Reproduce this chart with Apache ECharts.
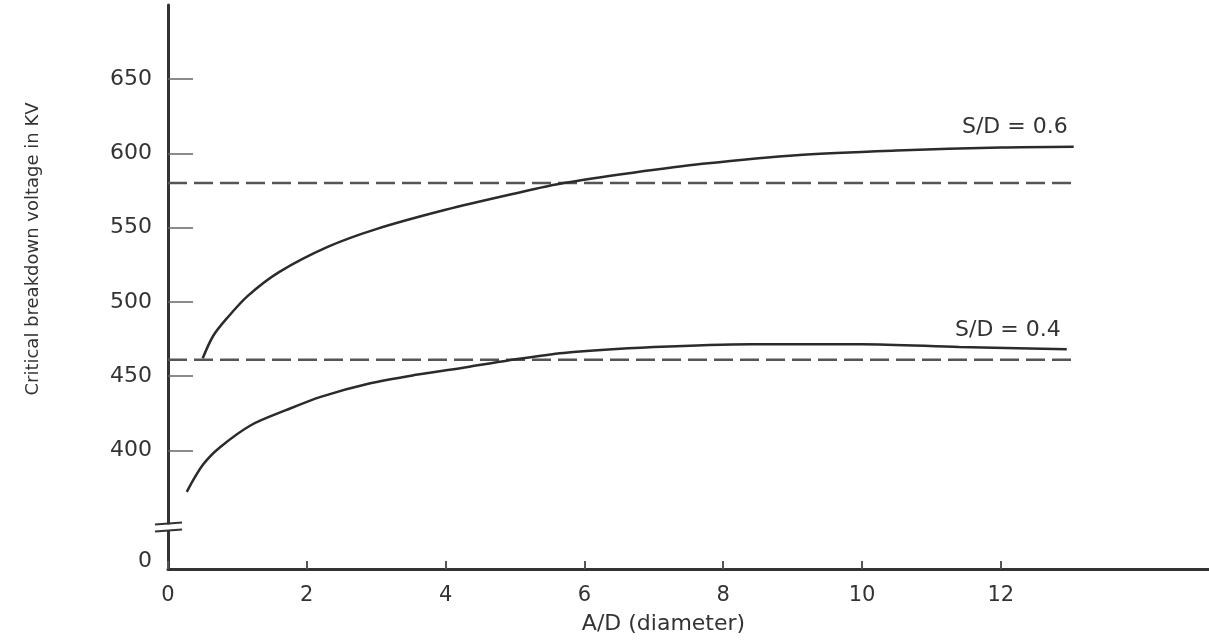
<!DOCTYPE html>
<html>
<head>
<meta charset="utf-8">
<script src="https://cdn.jsdelivr.net/npm/echarts@6/dist/echarts.min.js"></script>
<style>
	html, body { margin: 0; padding: 0; background: #fff; }
	#chart { width: 1209px; height: 640px; }
</style>
</head>
<body>
<div id="chart"></div>
<script>
// tick labels
var xTicks = [0, 2, 4, 6, 8, 10, 12];
var yTicks = [400, 450, 500, 550, 600, 650];
var yZero = 325;      // where the "0" below the break sits
var yBreakAt = 348;   // break mark on the y axis

// S/D = 0.6 curve
var sd06X = [0.5, 0.65, 0.85, 1.15, 1.6, 2.3, 3, 4, 5, 5.7, 6.7, 7.7, 9.1, 10.5, 12, 13.05];
var sd06V = [462, 477, 489, 504, 520, 537, 549, 562, 573, 580, 587, 593, 599, 602, 604, 604.5];

// S/D = 0.4 curve
var sd04X = [0.27, 0.5, 0.75, 1.2, 1.7, 2.2, 2.9, 3.6, 4.3, 4.9, 5.7, 7, 8.4, 10, 11.4, 12.95];
var sd04V = [372, 390, 402, 417, 427, 436, 445, 451, 456, 460.5, 465.5, 469.5, 471.5, 471.5, 469.6, 468];

// dashed reference levels
var dashLevels = [580, 461];
var dashEndX = 13.06;

var font = 'DejaVu Sans';
var ink = '#333';

function pairs(xs, vs) {
	return xs.map(function (x, i) { return [x, vs[i]]; });
}

var myChart = echarts.init(document.getElementById('chart'));

var series = [];
dashLevels.forEach(function (lv) {
	series.push({
		type: 'line',
		data: [[0, lv], [dashEndX, lv]],
		symbol: 'none',
		silent: true,
		lineStyle: { color: '#555', width: 2.5, type: [19, 7] }
	});
});
[['S/D = 0.6', sd06X, sd06V], ['S/D = 0.4', sd04X, sd04V]].forEach(function (s) {
	series.push({
		name: s[0],
		type: 'line',
		data: pairs(s[1], s[2]),
		smooth: 0.3,
		symbol: 'none',
		lineStyle: { color: '#2b2b2b', width: 2.5 },
		endLabel: {
			show: true,
			formatter: '{a}',
			color: ink,
			fontFamily: font,
			fontSize: 22,
			align: 'right',
			verticalAlign: 'bottom',
			offset: [-14, -8]
		}
	});
});

var option = {
	animation: false,
	grid: { left: 168, right: 0, top: 5, bottom: 69 },
	xAxis: {
		type: 'value',
		min: 0,
		max: 15,
		name: 'A/D (diameter)',
		nameLocation: 'middle',
		nameGap: 44,
		nameTextStyle: { color: ink, fontFamily: font, fontSize: 22, padding: [0, 50, 0, 0] },
		axisLine: { lineStyle: { color: ink, width: 3 } },
		axisTick: { inside: true, length: 8, customValues: xTicks, lineStyle: { color: '#555', width: 2 } },
		axisLabel: { customValues: xTicks, color: ink, fontFamily: font, fontSize: 21, margin: 16 },
		splitLine: { show: false }
	},
	yAxis: {
		type: 'value',
		min: 320,
		max: 700,
		name: 'Critical breakdown voltage in KV',
		nameLocation: 'middle',
		nameRotate: 90,
		nameGap: 126,
		nameTextStyle: { color: ink, fontFamily: font, fontSize: 18, padding: [0, 0, 0, 76] },
		axisLine: { lineStyle: { color: ink, width: 3 } },
		axisTick: { inside: true, length: 25, customValues: yTicks, lineStyle: { color: '#666', width: 1.5 } },
		axisLabel: {
			customValues: [yZero].concat(yTicks),
			color: ink,
			fontFamily: font,
			fontSize: 22,
			margin: 16,
			formatter: function (v) { return v === yZero ? '0' : String(v); }
		},
		splitLine: { show: false }
	},
	series: series
};
myChart.setOption(option);

// break mark on the y axis
var bp = myChart.convertToPixel({ gridIndex: 0 }, [0, yBreakAt]);
myChart.setOption({
	graphic: [
		{ type: 'rect', shape: { x: bp[0] - 4, y: bp[1] - 3, width: 8, height: 6 }, style: { fill: '#fff' }, z: 100 },
		{ type: 'line', shape: { x1: bp[0] - 13, y1: bp[1] - 3, x2: bp[0] + 14, y2: bp[1] - 5 }, style: { stroke: ink, lineWidth: 2 }, z: 101 },
		{ type: 'line', shape: { x1: bp[0] - 13, y1: bp[1] + 4, x2: bp[0] + 14, y2: bp[1] + 2 }, style: { stroke: ink, lineWidth: 2 }, z: 101 }
	]
});
</script>
</body>
</html>
